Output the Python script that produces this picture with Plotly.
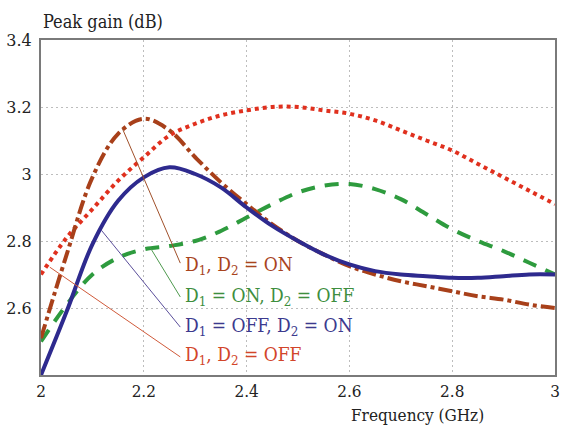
import plotly.graph_objects as go

freq = [2.0, 2.05, 2.1, 2.15, 2.2, 2.25, 2.3, 2.35, 2.4, 2.45, 2.5,
        2.55, 2.6, 2.65, 2.7, 2.75, 2.8, 2.85, 2.9, 2.95, 3.0]

gain_on_on = [2.51, 2.76, 2.99, 3.12, 3.165, 3.13, 3.05, 2.975, 2.91, 2.85, 2.80,
              2.76, 2.725, 2.70, 2.68, 2.665, 2.65, 2.635, 2.625, 2.61, 2.60]
gain_on_off = [2.50, 2.61, 2.70, 2.75, 2.775, 2.785, 2.80, 2.83, 2.87, 2.91, 2.945,
               2.965, 2.97, 2.955, 2.925, 2.88, 2.835, 2.80, 2.77, 2.735, 2.70]
gain_off_on = [2.40, 2.59, 2.79, 2.92, 2.99, 3.02, 3.00, 2.96, 2.90, 2.845, 2.80,
               2.76, 2.73, 2.71, 2.70, 2.695, 2.69, 2.69, 2.695, 2.70, 2.70]
gain_off_off = [2.70, 2.81, 2.895, 2.98, 3.05, 3.115, 3.15, 3.175, 3.19, 3.20, 3.20,
                3.19, 3.18, 3.16, 3.13, 3.10, 3.07, 3.03, 2.99, 2.95, 2.91]

labels = ["D<sub>1</sub>, D<sub>2</sub> = ON",
          "D<sub>1</sub> = ON, D<sub>2</sub> = OFF",
          "D<sub>1</sub> = OFF, D<sub>2</sub> = ON",
          "D<sub>1</sub>, D<sub>2</sub> = OFF"]
label_y = [2.728, 2.633, 2.546, 2.457]
lead_x = [2.158, 2.213, 2.117, 2.017]
lead_y = [3.137, 2.779, 2.833, 2.722]
lead_end_x = 2.271
lead_end_y = [2.734, 2.633, 2.543, 2.454]

xticks = [2, 2.2, 2.4, 2.6, 2.8, 3]
xticktext = ["2", "2.2", "2.4", "2.6", "2.8", "3"]
yticks = [2.6, 2.8, 3.0, 3.2, 3.4]
yticktext = ["2.6", "2.8", "3", "3.2", "3.4"]

col_on_on = "#A8401A"
col_on_off = "#2E9B3E"
col_off_on = "#2E2A8E"
col_off_off = "#E0301E"
line_cols = ["#A0502A", "#4E9A4E", "#5A4E9A", "#D05A3A"]
text_cols = ["#A8441E", "#3E8E3E", "#3C3A8E", "#D2452A"]

FC = "DejaVu Serif Condensed"
FS = "DejaVu Serif"

fig = go.Figure()
fig.add_trace(go.Scatter(x=freq, y=gain_off_off, mode="lines", line_shape="spline",
                         line=dict(color=col_off_off, width=4, dash="4px,4px")))
fig.add_trace(go.Scatter(x=freq, y=gain_on_off, mode="lines", line_shape="spline",
                         line=dict(color=col_on_off, width=4, dash="14px,10px")))
fig.add_trace(go.Scatter(x=freq, y=gain_on_on, mode="lines", line_shape="spline",
                         line=dict(color=col_on_on, width=4, dash="14px,4px,4px,4px")))
fig.add_trace(go.Scatter(x=freq, y=gain_off_on, mode="lines", line_shape="spline",
                         line=dict(color=col_off_on, width=4)))

for i in range(4):
    fig.add_shape(type="line", x0=lead_x[i], y0=lead_y[i], x1=lead_end_x, y1=lead_end_y[i],
                  xref="x", yref="y", line=dict(color=line_cols[i], width=1))
    fig.add_annotation(x=2.277, y=label_y[i], xref="x", yref="y", text=labels[i],
                       showarrow=False, xanchor="left", yanchor="middle",
                       font=dict(family=FC, size=19, color=text_cols[i]))

fig.add_annotation(x=0.0, y=1.0, xref="paper", yref="paper", text="Peak gain (dB)",
                   showarrow=False, xanchor="left", yanchor="middle", yshift=19,
                   font=dict(family=FC, size=18, color="#222"))
fig.add_annotation(x=0.732, y=0, xref="paper", yref="paper", text="Frequency (GHz)",
                   showarrow=False, xanchor="center", yanchor="top", yshift=-28,
                   font=dict(family=FC, size=17, color="#222"))

fig.update_layout(
    width=563, height=426,
    margin=dict(l=41, r=3, t=40, b=51),
    paper_bgcolor="white", plot_bgcolor="white",
    showlegend=False,
)
fig.update_xaxes(range=[2, 3], tickvals=xticks, ticktext=xticktext,
                 showgrid=True, gridcolor="#BDBDBD", griddash="2px,3px", gridwidth=1,
                 showline=True, linecolor="#7A7A7A", linewidth=2, mirror=True,
                 ticks="", zeroline=False, ticklabelstandoff=0,
                 ticklabeloverflow="allow",
                 tickfont=dict(family=FC, size=17, color="#222"))
fig.update_yaxes(range=[2.4, 3.4], tickvals=yticks, ticktext=yticktext,
                 showgrid=True, gridcolor="#BDBDBD", griddash="2px,3px", gridwidth=1,
                 showline=True, linecolor="#7A7A7A", linewidth=2, mirror=True,
                 ticks="", zeroline=False, ticklabelstandoff=4,
                 ticklabeloverflow="allow",
                 tickfont=dict(family=FS, size=16, color="#222"))

fig.write_html("out.html")
